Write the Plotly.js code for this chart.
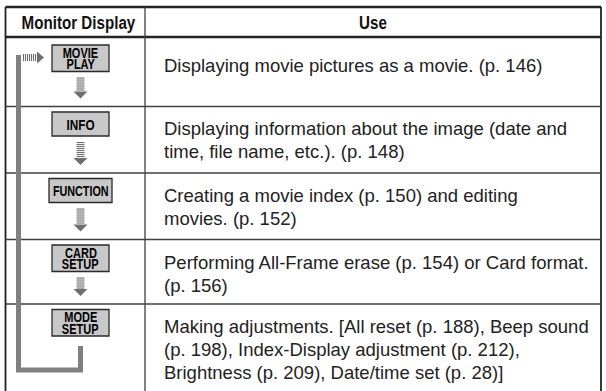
<!DOCTYPE html>
<html>
<head>
<meta charset="utf-8">
<script src="https://cdn.plot.ly/plotly-3.0.1.min.js"></script>
<style>html,body{margin:0;padding:0;background:#fff;}#chart{width:606px;height:391px;}</style>
</head>
<body>
<div id="chart"></div>
<script>
// ---- data ----
var headers = ["Monitor Display", "Use"];
var displayLabels = [["MOVIE", "PLAY"], ["INFO"], ["FUNCTION"], ["CARD", "SETUP"], ["MODE", "SETUP"]];
var useLines = [
  ["Displaying movie pictures as a movie. (p. 146)"],
  ["Displaying information about the image (date and", "time, file name, etc.). (p. 148)"],
  ["Creating a movie index (p. 150) and editing", "movies. (p. 152)"],
  ["Performing All-Frame erase (p. 154) or Card format.", "(p. 156)"],
  ["Making adjustments. [All reset (p. 188), Beep sound", "(p. 198), Index-Display adjustment (p. 212),", "Brightness (p. 209), Date/time set (p. 28)]"]
];

// ---- layout geometry ----
var W = 606, H = 391;
var L = 5.5, R = 601, TOP = 7, HEAD = 37, COLX = 145;
var rowBounds = [37, 106.5, 173, 239.5, 304, 391];
var firstLineOffset = [28, 22, 22, 22.5, 22];
var boxCx = 80.5, boxW = 57;
var lineGap = 23;
var textX = 162;
var textFont = {family: "Liberation Sans, Arial, sans-serif", size: 18.5, color: "#222"};
var boldFam = "Liberation Sans, Arial, sans-serif";
var lineCol = "#404040";

var shapes = [], annotations = [], condensed = [];
function line(x0, y0, x1, y1, w, c) {
  shapes.push({type: "line", xref: "x", yref: "y", x0: x0, y0: y0, x1: x1, y1: y1, line: {color: c || lineCol, width: w}});
}
function rect(x0, y0, x1, y1, fill, lc, lw) {
  shapes.push({type: "rect", xref: "x", yref: "y", x0: x0, y0: y0, x1: x1, y1: y1, fillcolor: fill, line: {color: lc || fill, width: lw || 0}});
}
function path(p, fill) {
  shapes.push({type: "path", xref: "x", yref: "y", path: p, fillcolor: fill, line: {color: fill, width: 0}});
}
function text(x, y, t, font, anchor, squeeze) {
  if (squeeze) condensed.push({idx: annotations.length, sx: squeeze});
  annotations.push({xref: "x", yref: "y", x: x, y: y, text: t, showarrow: false, font: font, xanchor: anchor || "center", yanchor: "middle"});
}

// table frame
line(L, TOP, R, TOP, 2.4, "#222");
line(L, HEAD, R, HEAD, 2.4, "#222");
line(L, TOP, L, H + 2, 1.8, "#222");
line(R, TOP, R, H + 2, 1.8, "#222");
line(COLX, TOP, COLX, H + 2, 1.3, lineCol);
for (var i = 1; i < rowBounds.length - 1; i++) line(L, rowBounds[i], R, rowBounds[i], 1.4, lineCol);

// headers
text((L + COLX) / 2 + 3, 22, "<b>" + headers[0] + "</b>", {family: boldFam, size: 18.5, color: "#111"}, "center", 0.82);
text((COLX + R) / 2, 22, "<b>" + headers[1] + "</b>", {family: boldFam, size: 18.5, color: "#111"}, "center", 0.82);

// bracket (return path)
var bx = 18.5, bc = "#808080";
path("M " + (bx - 2.5) + " 55 L " + (bx + 2.5) + " 55 L " + (bx + 2.5) + " 367.5 L " + (boxCx - 2.5) + " 367.5 L " + (boxCx - 2.5) + " 346 L " + (boxCx + 2.5) + " 346 L " + (boxCx + 2.5) + " 372.5 L " + (bx - 2.5) + " 372.5 Z", bc);

// rows
for (var r = 0; r < displayLabels.length; r++) {
  var rTop = rowBounds[r], rBot = rowBounds[r + 1];
  var lbl = displayLabels[r];
  var by0 = rTop + (r === 0 ? 8 : 5.5);
  var by1 = by0 + (lbl.length === 2 ? 26.5 : 24);
  var bw = lbl[0] === "FUNCTION" ? boxW + 6 : boxW;
  rect(boxCx - bw / 2, by0, boxCx + bw / 2, by1, "#c8c8c8", "#2a2a2a", 1.3);
  for (var k = 0; k < lbl.length; k++) {
    var ty = lbl.length === 2 ? by0 + 7.5 + k * 11.5 : (by0 + by1) / 2;
    var fs = lbl.length === 2 ? 14.5 : (lbl[k].length > 6 ? 15 : 15.5);
    var sq = lbl[k].length > 6 ? 0.72 : 0.76;
    text(boxCx, ty, "<b>" + lbl[k] + "</b>", {family: boldFam, size: fs, color: "#000"}, "center", sq);
  }
  // down arrow below box (not for the last row)
  if (r < displayLabels.length - 1) {
    var ay0 = by1 + 6, ay1 = rBot - 8;
    var headH = 7;
    var stripeEnd = ay1 - headH;
    for (var s = ay0; s < stripeEnd - 0.5; s += 2) {
      rect(boxCx - 4, s, boxCx + 4, s + 1.1, "#6e6e6e");
    }
    path("M " + (boxCx - 7) + " " + stripeEnd + " L " + (boxCx + 7) + " " + stripeEnd + " L " + boxCx + " " + ay1 + " Z", "#6e6e6e");
  }
  // use text
  var lines = useLines[r];
  for (var j = 0; j < lines.length; j++) {
    text(textX, rTop + firstLineOffset[r] + j * lineGap, lines[j], textFont, "left");
  }
}

// right arrow from bracket into first box
var arY = 57.5;
for (var xs = 23; xs < 37; xs += 2) rect(xs, arY - 3.5, xs + 1.1, arY + 3.5, "#6e6e6e");
path("M 37 " + (arY - 6) + " L 37 " + (arY + 6) + " L 44 " + arY + " Z", "#6e6e6e");

var layout = {
  width: W, height: H,
  margin: {l: 0, r: 0, t: 0, b: 0},
  paper_bgcolor: "#fff", plot_bgcolor: "#fff",
  xaxis: {range: [0, W], visible: false, fixedrange: true},
  yaxis: {range: [H, 0], visible: false, fixedrange: true},
  shapes: shapes, annotations: annotations, showlegend: false
};
Plotly.newPlot("chart", [{x: [], y: [], type: "scatter"}], layout, {displayModeBar: false, staticPlot: true}).then(function (gd) {
  // narrow (condensed) lettering for the bold labels
  condensed.forEach(function (c) {
    var g = gd.querySelector('g.annotation[data-index="' + c.idx + '"]');
    if (!g) return;
    var t = g.querySelector('text.annotation-text');
    if (!t) return;
    var bb = t.getBBox();
    var cx = bb.x + bb.width / 2;
    t.setAttribute("transform", "translate(" + cx + ",0) scale(" + c.sx + ",1) translate(" + (-cx) + ",0)");
  });
});
</script>
</body>
</html>
